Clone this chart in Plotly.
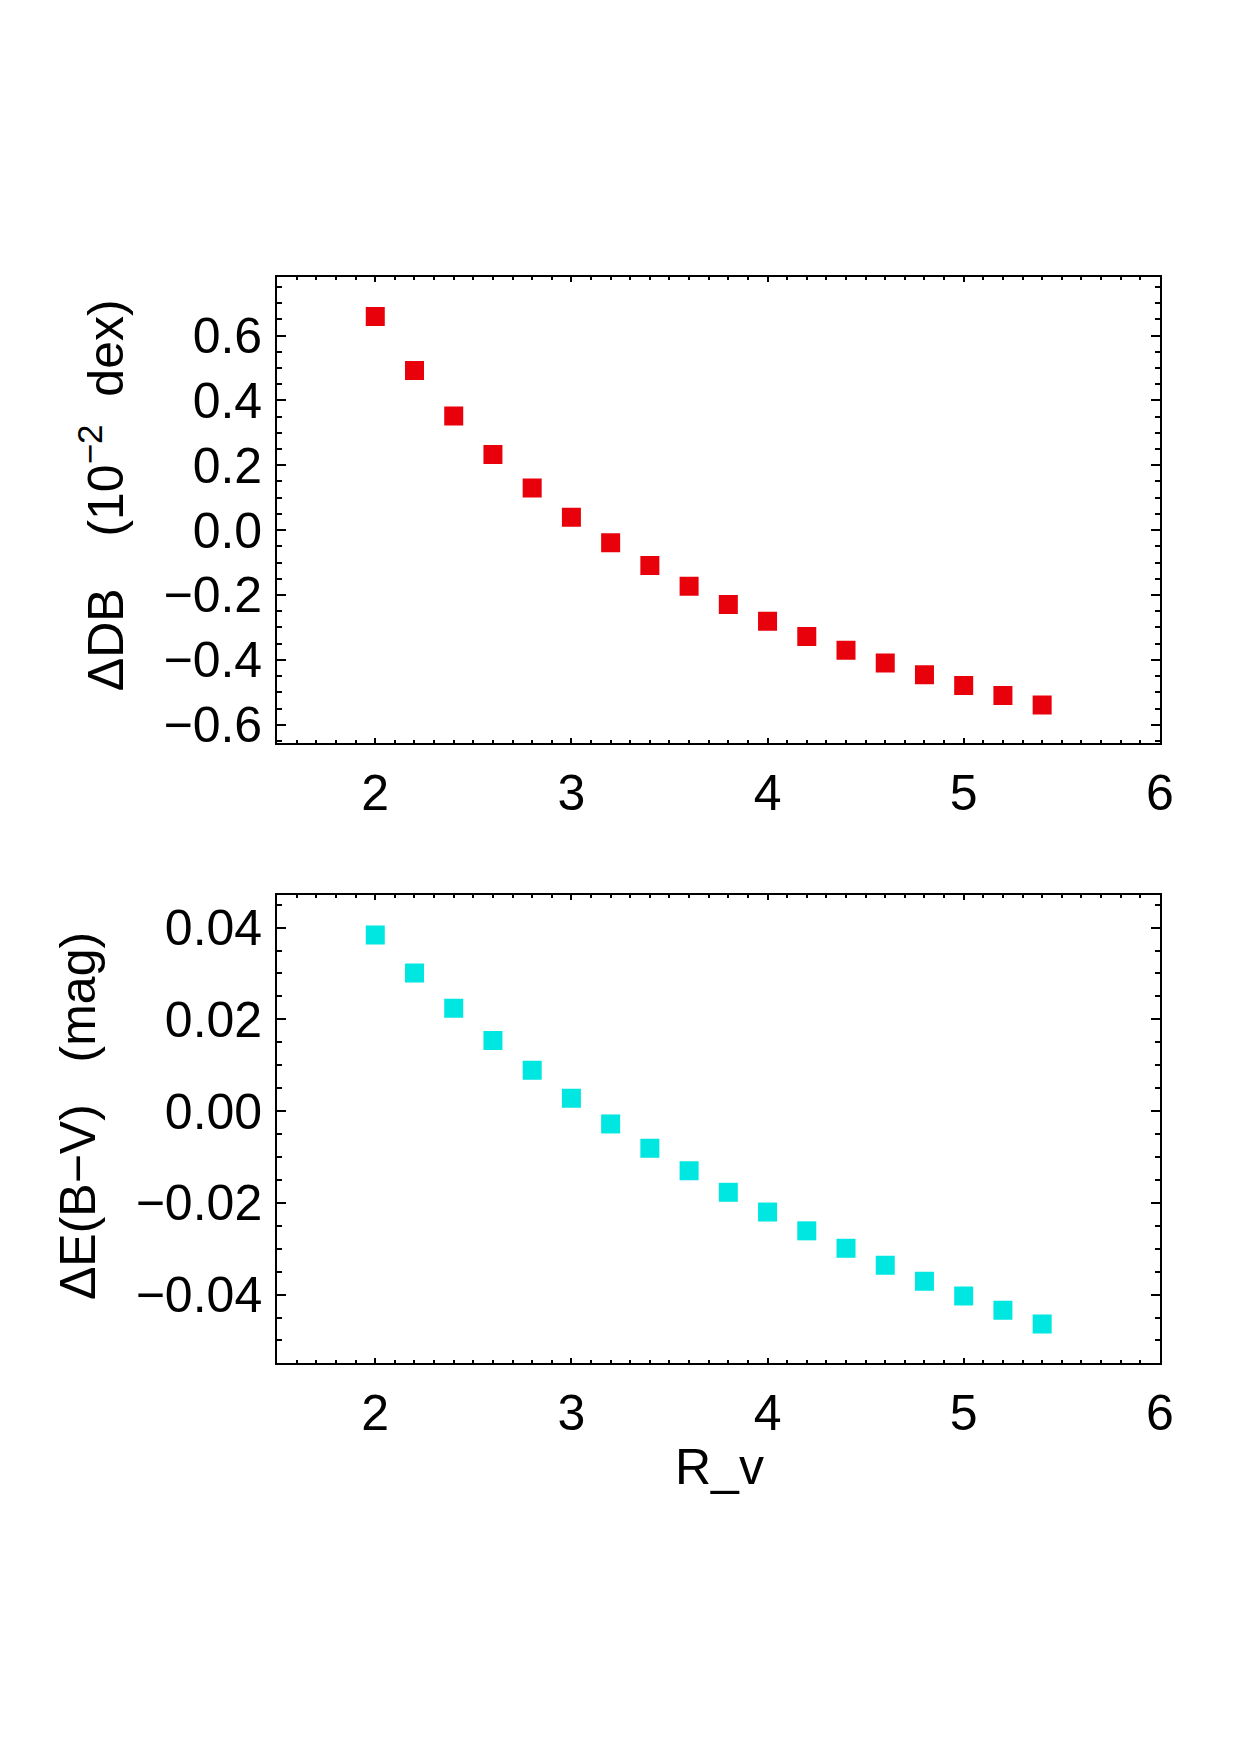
import plotly.graph_objects as go

# Data
rv = [2.0, 2.2, 2.4, 2.6, 2.8, 3.0, 3.2, 3.4, 3.6, 3.8, 4.0, 4.2, 4.4, 4.6, 4.8, 5.0, 5.2, 5.4]
delta_db = [0.659, 0.492, 0.352, 0.233, 0.130, 0.040, -0.039, -0.109, -0.173, -0.229,
            -0.281, -0.328, -0.370, -0.410, -0.446, -0.479, -0.510, -0.539]
delta_ebv = [0.0384, 0.0301, 0.0224, 0.0154, 0.0089, 0.0028, -0.0028, -0.0081, -0.0130, -0.0177,
             -0.0220, -0.0261, -0.0299, -0.0336, -0.0371, -0.0403, -0.0434, -0.0464]
x_ticks = [2, 3, 4, 5, 6]
db_ticks = [-0.6, -0.4, -0.2, 0.0, 0.2, 0.4, 0.6]
ebv_ticks = [-0.04, -0.02, 0.0, 0.02, 0.04]

W, H = 1240, 1755
FONT = "Liberation Sans, Arial, Helvetica, sans-serif"
FS = 50


def px(x):
    # horizontal pixel -> paper fraction (with empirical render correction)
    return (x / 0.988) / W


def py(y):
    # vertical pixel (from top) -> paper fraction (with empirical render correction)
    return 1 - ((y + 2.7) / 0.997) / H


fig = go.Figure()
fig.add_trace(go.Scatter(x=rv, y=delta_db, mode="markers", xaxis="x", yaxis="y",
                         marker=dict(symbol="square", size=19, color="#E8000A", line=dict(width=0)),
                         showlegend=False))
fig.add_trace(go.Scatter(x=rv, y=delta_ebv, mode="markers", xaxis="x2", yaxis="y2",
                         marker=dict(symbol="square", size=19, color="#00E6E0", line=dict(width=0)),
                         showlegend=False))

xdom = [px(277), px(1159)]
axis_common = dict(showline=True, linecolor="black", linewidth=2, mirror="allticks",
                   ticks="inside", tickcolor="black", tickwidth=2, showgrid=False, zeroline=False,
                   tickfont=dict(family=FONT, size=FS, color="black"))

xa = dict(axis_common, range=[1.5, 6], tickvals=x_ticks, ticktext=[str(v) for v in x_ticks],
          ticklen=5, ticklabelstandoff=5,
          minor=dict(dtick=0.1, tick0=1.5, ticklen=3, ticks="inside", tickcolor="black", tickwidth=2))

fig.update_layout(
    width=W, height=H, margin=dict(l=0, r=0, t=0, b=0),
    paper_bgcolor="white", plot_bgcolor="white",
    xaxis=dict(xa, domain=xdom, anchor="y"),
    yaxis=dict(axis_common, domain=[py(742.3), py(275.7)], range=[-0.655, 0.779], anchor="x",
               tickvals=db_ticks, ticktext=[f"{v:.1f}".replace("-", "\u2212") for v in db_ticks],
               ticklen=9, ticklabelstandoff=3,
               minor=dict(dtick=0.05, tick0=0, ticklen=4.5, ticks="inside", tickcolor="black", tickwidth=2)),
    xaxis2=dict(xa, domain=xdom, anchor="y2"),
    yaxis2=dict(axis_common, domain=[py(1364.3), py(895.7)], range=[-0.0548, 0.047], anchor="x2",
                tickvals=ebv_ticks, ticktext=[f"{v:.2f}".replace("-", "\u2212") for v in ebv_ticks],
                ticklen=9, ticklabelstandoff=3,
                minor=dict(dtick=0.005, tick0=0, ticklen=4.5, ticks="inside", tickcolor="black", tickwidth=2)),
    annotations=[
        dict(text="\u0394DB\u00a0\u00a0\u00a0\u2009(10<sup>\u22122</sup>\u00a0\u00a0dex)", textangle=-90,
             x=px(102), y=py(494), xref="paper", yref="paper", showarrow=False,
             xanchor="center", yanchor="middle", font=dict(family=FONT, size=FS, color="black")),
        dict(text="\u0394E(B\u2212V)\u00a0\u00a0\u00a0(mag)", textangle=-90,
             x=px(78), y=py(1117), xref="paper", yref="paper", showarrow=False,
             xanchor="center", yanchor="middle", font=dict(family=FONT, size=FS, color="black")),
        dict(text="R_v", x=px(719), y=py(1469), xref="paper", yref="paper", showarrow=False,
             xanchor="center", yanchor="middle", font=dict(family=FONT, size=FS, color="black")),
    ],
)

fig.write_html("out.html")
